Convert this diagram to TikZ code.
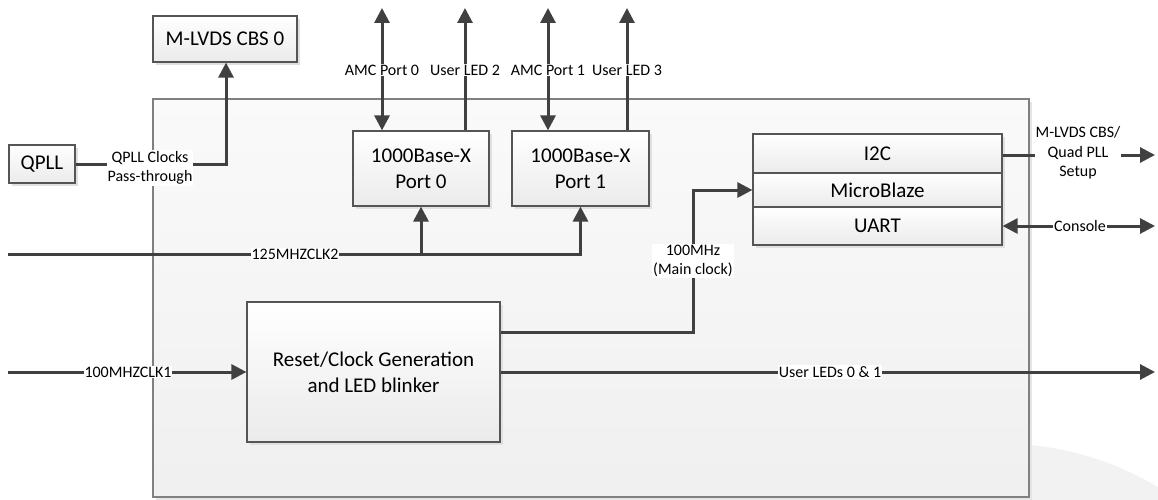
\documentclass[tikz,border=0pt]{standalone}
\usepackage{fontspec}
\setmainfont{Carlito}
\usetikzlibrary{arrows.meta,shadows}
\definecolor{wire}{HTML}{404040}
\definecolor{bord}{HTML}{555555}
\tikzset{
  blk/.style={draw=bord, line width=1.2pt, top color=white, bottom color=black!8,
    inner sep=0pt, align=center, font=\fontsize{21}{26}\selectfont,
    drop shadow={shadow xshift=3pt, shadow yshift=-3pt, fill=black!12, opacity=1}},
  wirestyle/.style={draw=wire, line width=3pt},
  tip/.style={-{Triangle[length=15pt,width=15pt]}},
  lbl/.style={fill=white, inner sep=1pt, align=center, font=\fontsize{16}{19.5}\selectfont}
}
\begin{document}
\begin{tikzpicture}[x=1pt,y=-1pt]
\useasboundingbox (0,0) rectangle (1158,500);
% faint background arc
\begin{scope}
  \clip (0,0) rectangle (1158,500);
  \fill[black!5] (1000,750) circle (306.5);
\end{scope}
% main FPGA box
\node[draw=black!50, line width=1.4pt, top color=black!2, bottom color=black!6,
  minimum width=876pt, minimum height=398pt, inner sep=0pt,
  drop shadow={shadow xshift=3pt, shadow yshift=-3pt, fill=black!10, opacity=1}]
  (fpga) at (591,298) {};
% blocks
\node[blk, minimum width=144pt, minimum height=46pt] (mlvds) at (225,39) {M-LVDS CBS 0};
\node[blk, minimum width=66pt, minimum height=38pt] (qpll) at (42,164) {QPLL};
\node[blk, minimum width=136pt, minimum height=75pt] (p0) at (421,168.5) {1000Base-X\\Port 0};
\node[blk, minimum width=137pt, minimum height=75pt] (p1) at (580.5,168.5) {1000Base-X\\Port 1};
\node[blk, minimum width=253pt, minimum height=140pt] (reset) at (373.5,372) {Reset/Clock Generation\\and LED blinker};
\node[blk, minimum width=249pt, minimum height=39pt] (i2c) at (877.5,153.5) {I2C};
\node[blk, minimum width=249pt, minimum height=34pt] (mb) at (877.5,190) {MicroBlaze};
\node[blk, minimum width=249pt, minimum height=38pt] (uart) at (877.5,226) {UART};
% free ends
\coordinate (amc0) at (382,8);
\coordinate (led2) at (465,8);
\coordinate (amc1) at (548,8);
\coordinate (led3) at (627,8);
\coordinate (in125) at (8,254);
\coordinate (in100) at (8,372);
\coordinate (outled) at (1155,372);
\coordinate (outi2c) at (1155,155);
\coordinate (outcon) at (1155,226);
\coordinate (qbend) at (226,164);
\coordinate (mcbend) at (693,332);
% connectors
\draw[wirestyle, tip] (qpll.east) -- (qbend) -- (qbend |- mlvds.south);
\draw[wirestyle, {Triangle[length=15pt,width=15pt]}-{Triangle[length=15pt,width=15pt]}] (amc0) -- (amc0 |- p0.north);
\draw[wirestyle, tip] (led2 |- p0.north) -- (led2);
\draw[wirestyle, {Triangle[length=15pt,width=15pt]}-{Triangle[length=15pt,width=15pt]}] (amc1) -- (amc1 |- p1.north);
\draw[wirestyle, tip] (led3 |- p1.north) -- (led3);
\draw[wirestyle, tip] (in125) -- (p1.south |- in125) -- (p1.south);
\draw[wirestyle, tip] (p0.south |- in125) -- (p0.south);
\draw[wirestyle, tip] (in100) -- (reset.west);
\draw[wirestyle, tip] (reset.east |- outled) -- (outled);
\draw[wirestyle, tip] (reset.east |- mcbend) -- (mcbend) -- (mcbend |- mb.west) -- (mb.west);
\draw[wirestyle, tip] (i2c.east |- outi2c) -- (outi2c);
\draw[wirestyle, {Triangle[length=15pt,width=15pt]}-{Triangle[length=15pt,width=15pt]}] (uart.east |- outcon) -- (outcon);
% labels
\node[lbl] (lqpll) at (150,168) {QPLL Clocks\\Pass-through};
\node[lbl] (lamc0) at (382,70) {AMC Port 0};
\node[lbl] (lled2) at (465,70) {User LED 2};
\node[lbl] (lamc1) at (548,70) {AMC Port 1};
\node[lbl] (lled3) at (627,70) {User LED 3};
\node[lbl] (l125) at (295,254) {125MHZCLK2};
\node[lbl] (l100) at (128,372) {100MHZCLK1};
\node[lbl] (lleds) at (830,372) {User LEDs 0 \& 1};
\node[lbl] (lmc) at (693,261) {100MHz\\(Main clock)};
\node[lbl] (li2c) at (1078,153) {M-LVDS CBS/\\Quad PLL\\Setup};
\node[lbl] (lcon) at (1080,226) {Console};
\end{tikzpicture}
\end{document}
